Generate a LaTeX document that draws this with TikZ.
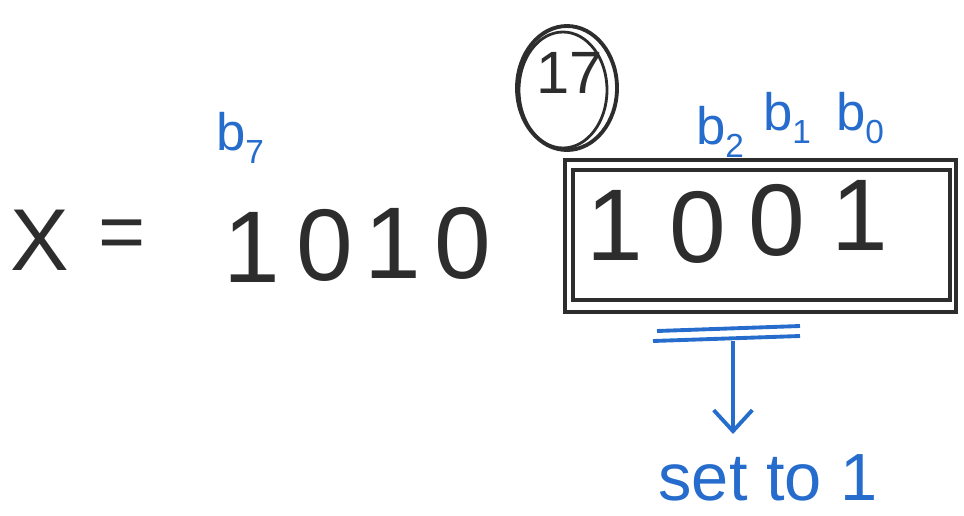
\documentclass[tikz,border=0pt]{standalone}
\usepackage{fontspec}
\setmainfont{Liberation Sans}
\usetikzlibrary{arrows.meta}
\definecolor{ink}{RGB}{45,45,45}
\definecolor{pen}{RGB}{38,108,205}
\newcommand{\sbs}[1]{{\fontsize{19}{19}\selectfont\raisebox{-7pt}{#1}}}
\tikzset{
  big/.style={text=ink, font=\fontsize{58}{58}\selectfont, inner sep=0pt},
  lbl/.style={text=pen, font=\fontsize{30}{30}\selectfont, inner sep=0pt},
  stroke/.style={draw=ink, line width=2.2pt},
  bluestroke/.style={draw=pen, line width=2.2pt},
}
\begin{document}
\begin{tikzpicture}[x=0.02cm,y=-0.02cm]
\path[use as bounding box] (0,0) rectangle (964,515);
% left part
\node[big, font=\fontsize{50}{50}\selectfont] (X) at (40,240) {X};
\node[big, font=\fontsize{46}{46}\selectfont] (eq) at (122,240) {=};
\node[big] (d7) at (252,247) {1};
\node[big] (d6) at (325,245) {0};
\node[big] (d5) at (393,243) {1};
\node[big] (d4) at (463,243) {0};
% circled 17
\node[text=ink, font=\fontsize{34}{34}\selectfont, inner sep=0pt] (n17) at (570,73) {17};
\draw[stroke] (567,88) ellipse [x radius=50, y radius=62];
\draw[stroke, line width=1.6pt] (563,90) ellipse [x radius=44, y radius=58];
% box
\node[draw=ink, line width=2.2pt, minimum width=391*0.02cm, minimum height=152*0.02cm, inner sep=0pt] (box) at (760.5,236) {};
\node[draw=ink, line width=1.8pt, minimum width=377*0.02cm, minimum height=130*0.02cm, inner sep=0pt] (boxin) at (761.5,235) {};
\node[big] (d3) at (615,225) {1};
\node[big] (d2) at (698,227) {0};
\node[big] (d1) at (777,220) {0};
\node[big] (d0) at (860,215) {1};
% labels
\node[lbl] (b7) at (240,138) {b\sbs{7}};
\node[lbl] (b2) at (720,132) {b\sbs{2}};
\node[lbl] (b1) at (787,118) {b\sbs{1}};
\node[lbl] (b0) at (860,118) {b\sbs{0}};
% double bar and arrow
\coordinate (l1a) at (657,331);
\coordinate (l1b) at (800,326);
\coordinate (l2a) at (653,341);
\coordinate (l2b) at (800,336);
\draw[bluestroke] (l1a) -- (l1b);
\draw[bluestroke] (l2a) -- (l2b);
\coordinate (atop) at (733,341);
\node[text=pen, font=\fontsize{38}{38}\selectfont, inner sep=0pt, anchor=base] (set) at (768,500) {set to 1};
\draw[bluestroke, -{Straight Barb[length=12pt, width=22pt, line width=2.2pt]}] (atop) -- (733,434);
\end{tikzpicture}
\end{document}
